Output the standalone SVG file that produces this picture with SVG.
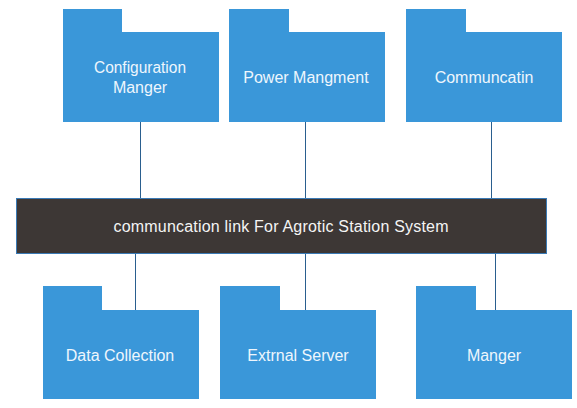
<svg xmlns="http://www.w3.org/2000/svg" width="577" height="408" viewBox="0 0 577 408">
<style>
.folder{fill:#3a97d9;}
.lbl{font-family:"Liberation Sans",Arial,sans-serif;font-size:16px;fill:#eef6fd;text-anchor:middle;}
.conn{stroke:#2a5f8f;stroke-width:1;fill:none;}
.bar{fill:#3d3735;stroke:#3a7ab5;stroke-width:1;}
.barlbl{font-family:"Liberation Sans",Arial,sans-serif;font-size:16px;fill:#f4f4f4;text-anchor:middle;}
</style>
<rect width="577" height="408" fill="#ffffff"/>
<g id="connectors">
<line class="conn" x1="140.5" y1="122" x2="140.5" y2="199"/>
<line class="conn" x1="305.5" y1="122" x2="305.5" y2="199"/>
<line class="conn" x1="491.5" y1="122" x2="491.5" y2="199"/>
<line class="conn" x1="135.5" y1="253" x2="135.5" y2="310"/>
<line class="conn" x1="305.5" y1="253" x2="305.5" y2="310"/>
<line class="conn" x1="495.5" y1="253" x2="495.5" y2="310"/>
</g>
<g id="config">
<path class="folder" d="M63 9H122V32H219V122H63Z"/>
<text class="lbl" x="140" y="73" textLength="92" lengthAdjust="spacingAndGlyphs">Configuration</text>
<text class="lbl" x="140" y="93">Manger</text>
</g>
<g id="power">
<path class="folder" d="M229 9H289V32H385V122H229Z"/>
<text class="lbl" x="306" y="83">Power Mangment</text>
</g>
<g id="comm">
<path class="folder" d="M406 9H466V32H562V122H406Z"/>
<text class="lbl" x="484" y="83">Communcatin</text>
</g>
<g id="link">
<rect class="bar" x="16.5" y="198.5" width="530" height="55"/>
<text class="barlbl" x="281" y="232" textLength="335" lengthAdjust="spacing">communcation link For Agrotic Station System</text>
</g>
<g id="data">
<path class="folder" d="M43 286H102V310H199V399H43Z"/>
<text class="lbl" x="120" y="361">Data Collection</text>
</g>
<g id="server">
<path class="folder" d="M220 286H280V310H376V399H220Z"/>
<text class="lbl" x="298" y="361">Extrnal Server</text>
</g>
<g id="manager">
<path class="folder" d="M416 286H476V310H572V399H416Z"/>
<text class="lbl" x="494" y="361">Manger</text>
</g>
</svg>
